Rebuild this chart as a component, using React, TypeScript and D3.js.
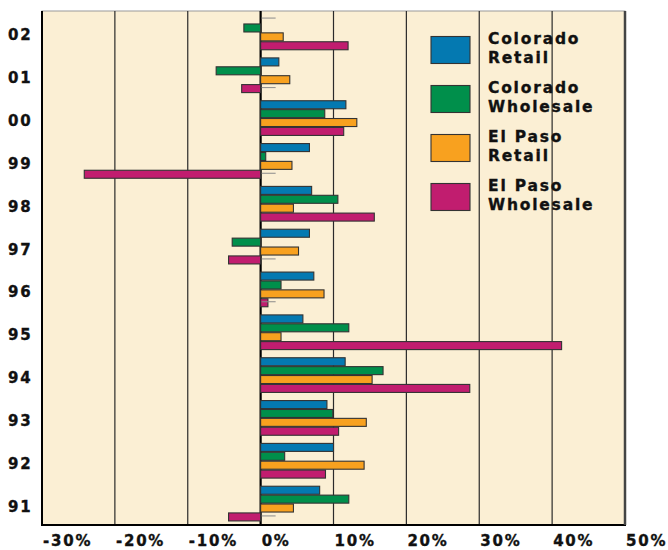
import React from 'react'
import { scaleLinear, scaleBand } from 'd3'

const years = ['02', '01', '00', '99', '98', '97', '96', '95', '94', '93', '92', '91']
const seriesNames = ['Colorado Retail', 'Colorado Wholesale', 'El Paso Retail', 'El Paso Wholesale']
const legendLines = [['Colorado', 'Retail'], ['Colorado', 'Wholesale'], ['El Paso', 'Retail'], ['El Paso', 'Wholesale']]
const colors = ['#0479b1', '#008f4b', '#f8a11f', '#c11d6f']

// percent change, one array per series, same order as years
const coloradoRetail = [0, 2.5, 11.7, 6.7, 7.0, 6.7, 7.3, 5.8, 11.6, 9.1, 10.0, 8.1]
const coloradoWholesale = [-2.3, -6.1, 8.8, 0.7, 10.6, -3.9, 2.8, 12.1, 16.8, 9.9, 3.3, 12.1]
const elPasoRetail = [3.1, 4.0, 13.2, 4.3, 4.5, 5.2, 8.7, 2.8, 15.3, 14.5, 14.2, 4.5]
const elPasoWholesale = [12.0, -2.6, 11.4, -24.2, 15.6, -4.4, 1.0, 41.3, 28.7, 10.7, 8.9, -4.4]
const allSeries = [coloradoRetail, coloradoWholesale, elPasoRetail, elPasoWholesale]

const xTicks = [-30, -20, -10, 0, 10, 20, 30, 40, 50]

// little leftover tick marks in the original artwork [year, series]
const stubs: [string, number][] = [['02', 0], ['01', 3], ['99', 3], ['97', 3], ['96', 3], ['91', 3]]

const W = 668
const H = 550
const top = 11
const bottom = 525
const left = 42
const right = 625

const font = '"DejaVu Sans", Arial, sans-serif'
const textStyle = {
  fontFamily: font, fontWeight: 'bold' as const, fill: '#111', stroke: '#111', strokeWidth: 0.35,
}

export default function App() {
  const x = scaleLinear().domain([-30, 50]).range([left, right])
  const y = scaleBand().domain(years).range([top, bottom]).paddingInner(0.19).paddingOuter(0.095)
  const inner = scaleBand().domain(seriesNames).range([0, y.bandwidth()]).paddingInner(0.1)

  return (
    <svg width={W} height={H} style={{ position: 'absolute', left: 0, top: 0, background: '#fff' }}>
      <rect x={left} y={top} width={right - left} height={bottom - top} fill="#fbefd4" stroke="#9a9a9a" strokeWidth={1} />

      {/* grid */}
      {xTicks.map(t => (
        <line key={t} x1={x(t)} x2={x(t)} y1={top} y2={bottom}
          stroke={t === 0 ? '#000' : '#2a2a2a'} strokeWidth={t === 0 ? 2.2 : 1.2} />
      ))}

      {/* bars */}
      {years.map((yr, i) => (
        <g key={yr}>
          {allSeries.map((s, j) => {
            const v = s[i]
            if (v === 0) return null
            const x0 = x(Math.min(0, v))
            const w = Math.abs(x(v) - x(0))
            return (
              <rect key={j} x={x0} y={(y(yr) || 0) + (inner(seriesNames[j]) || 0)}
                width={w} height={inner.bandwidth()}
                fill={colors[j]} stroke="#333" strokeWidth={1.1} />
            )
          })}
        </g>
      ))}

      {stubs.map(([yr, j], k) => {
        const yy = (y(yr) || 0) + (inner(seriesNames[j]) || 0) + inner.bandwidth() / 2 - 1
        return <line key={k} x1={x(0) + 1} x2={x(0) + 15} y1={yy} y2={yy} stroke="#8a8a8a" strokeWidth={1} />
      })}

      {/* frame */}
      <line x1={left} x2={left} y1={top} y2={bottom + 1} stroke="#000" strokeWidth={2} />
      <line x1={left} x2={right + 1} y1={bottom} y2={bottom} stroke="#000" strokeWidth={2} />
      <line x1={right} x2={right} y1={top} y2={bottom} stroke="#444" strokeWidth={2.5} />

      {/* y labels */}
      {years.map(yr => (
        <text key={yr} x={8} y={(y(yr) || 0) + y.bandwidth() / 2 + 8}
          fontSize={15} letterSpacing={1.8} style={textStyle}>{yr}</text>
      ))}

      {/* x labels */}
      {xTicks.map(t => (
        <text key={t} x={x(t) + 1} y={546} fontSize={15}
          letterSpacing={1.8} style={textStyle}>{t + '%'}</text>
      ))}

      {/* legend */}
      {legendLines.map((lines, j) => {
        const ly = 36.5 + j * 49
        return (
          <g key={j}>
            <rect x={431} y={ly} width={39} height={27} fill={colors[j]} stroke="#333" strokeWidth={1.1} />
            {lines.map((t, k) => (
              <text key={k} x={488} y={ly + 7.5 + k * 18.7} fontSize={15.5}
                letterSpacing={1.8} style={textStyle}>{t}</text>
            ))}
          </g>
        )
      })}
    </svg>
  )
}
